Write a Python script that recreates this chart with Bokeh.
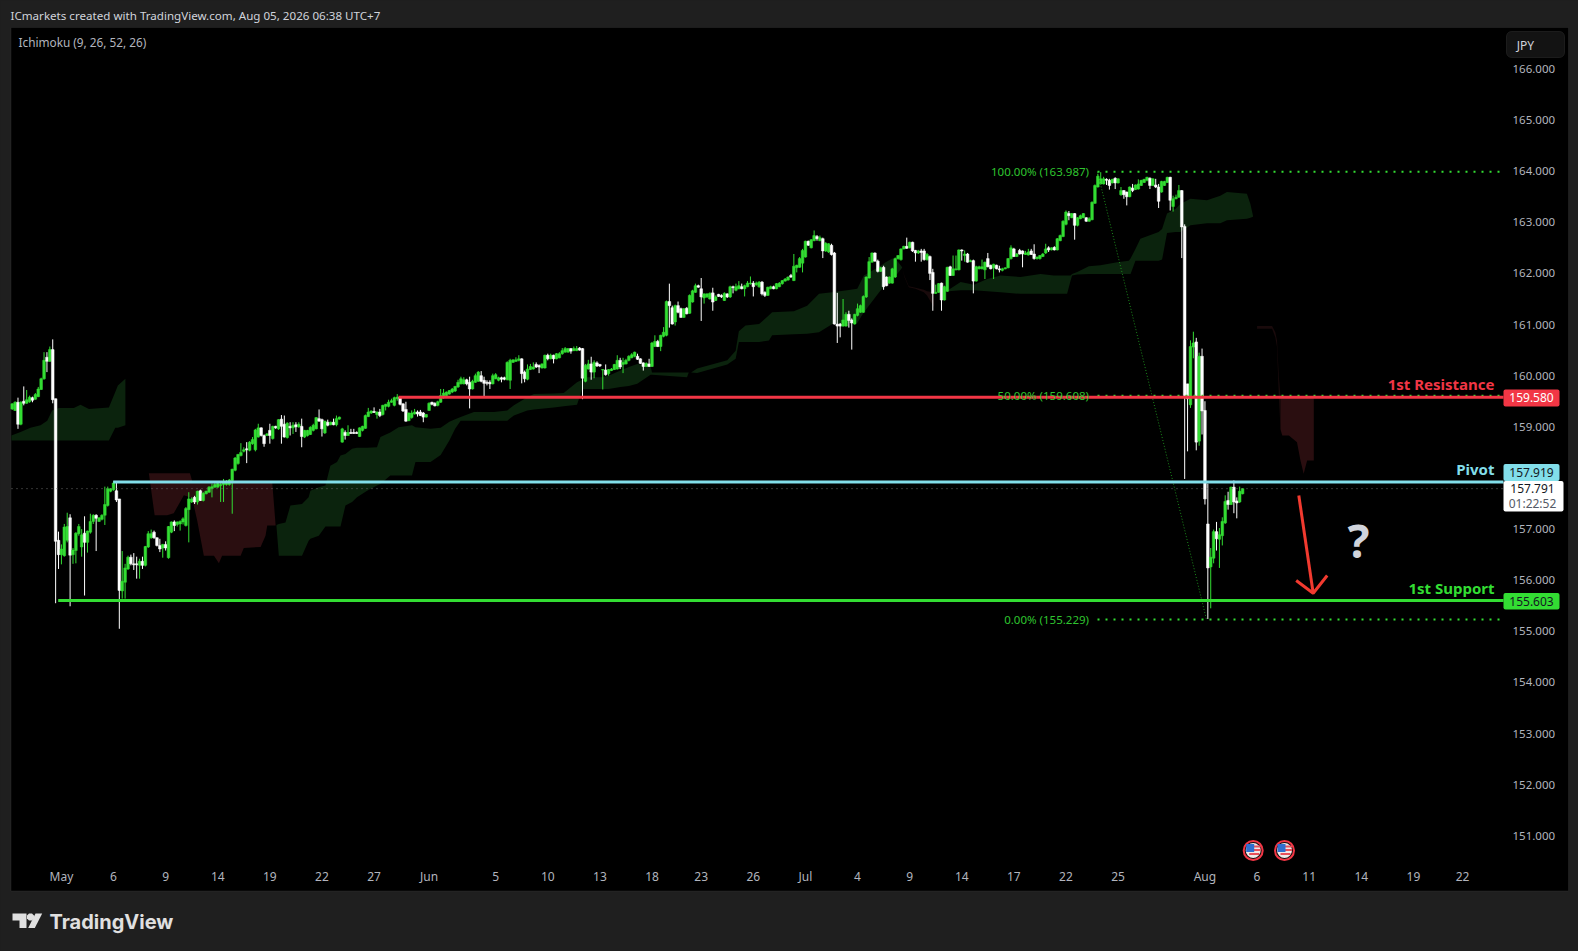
from bokeh.plotting import figure
from bokeh.models import (ColumnDataSource, FixedTicker, BoxAnnotation, Label, PolyAnnotation, Range1d)
from bokeh.embed import file_html
from bokeh.resources import INLINE

# ---- candles (4h bars) ----
opens = [
159.35,159.32,159.48,159.05,159.50,159.46,159.49,159.57,159.54,159.59,
159.73,159.94,160.36,160.28,160.51,159.55,156.78,156.50,156.48,156.78,
157.22,156.50,156.58,156.91,156.65,156.92,156.74,156.94,157.15,157.27,
157.15,157.19,157.27,157.46,157.74,157.77,157.75,157.59,155.79,155.96,
156.22,156.45,156.32,156.32,156.29,156.37,156.29,156.65,156.83,156.94,
156.83,156.68,156.63,156.70,156.44,156.94,157.14,157.09,157.10,157.14,
157.07,157.38,157.53,157.62,157.53,157.75,157.56,157.69,157.72,157.79,
157.82,157.82,157.85,157.87,157.87,157.87,157.95,158.15,158.28,158.44,
158.52,158.57,158.54,158.67,158.55,158.80,158.98,158.83,158.83,158.93,
158.77,159.01,158.96,159.15,159.05,158.79,159.01,158.98,159.04,159.00,
159.01,158.80,158.83,158.85,158.93,158.96,159.16,159.14,158.88,159.09,
159.04,159.09,159.04,159.15,158.70,158.89,158.83,158.89,158.89,158.89,
158.81,158.93,158.97,159.20,159.27,159.30,159.24,159.29,159.24,159.40,
159.40,159.48,159.42,159.55,159.58,159.45,159.34,159.12,159.18,159.25,
159.29,159.29,159.27,159.19,159.32,
159.48,159.46,159.42,159.48,159.57,159.61,159.64,159.68,159.70,159.78,
159.84,159.84,159.92,159.87,159.74,159.87,159.89,160.00,159.91,159.87,
159.87,159.84,159.94,159.91,159.96,159.96,159.92,159.91,160.26,160.28,
160.30,160.33,160.07,159.93,160.12,160.13,160.22,160.20,160.15,160.15,
160.40,160.33,160.40,160.33,160.35,160.43,160.46,160.46,160.53,160.49,
160.49,160.54,160.53,159.89,160.13,160.23,160.07,160.25,160.22,160.11,
160.11,160.04,160.10,160.12,160.13,160.30,160.22,160.23,160.30,160.35,
160.38,160.38,160.33,160.25,160.18,160.23,160.18,160.57,160.67,160.57,
160.77,160.79,161.45,161.33,161.05,161.37,161.31,161.14,161.32,161.22,
161.44,161.63,161.76,161.70,
161.52,161.54,161.50,161.62,161.47,161.59,161.57,161.47,161.60,161.54,
161.74,161.67,161.70,161.74,161.70,161.74,161.80,161.81,161.78,161.74,
161.83,161.63,161.57,161.70,161.74,161.70,161.74,161.80,161.85,161.87,
161.96,161.86,162.11,162.12,162.20,162.32,162.63,162.50,162.64,162.72,
162.64,162.68,162.44,162.42,162.55,162.40,161.01,161.01,160.97,160.97,
161.20,161.09,161.01,161.18,161.24,161.24,161.54,161.91,162.22,162.40,
162.24,162.04,162.12,161.93,161.81,161.81,161.93,162.29,162.27,162.48,
162.53,162.50,162.61,162.45,162.40,162.44,162.44,162.27,162.33,162.02,
161.61,161.63,161.81,161.48,161.65,162.13,161.96,162.07,162.07,162.46,
162.35,162.38,162.23,162.25,161.85,162.09,162.09,162.07,162.29,162.16,
162.11,162.16,162.09,162.06,162.09,162.11,162.29,162.48,162.33,162.45,
162.44,162.37,162.36,162.44,162.38,162.29,162.29,162.33,162.40,162.50,
162.46,162.51,162.46,162.64,162.72,162.96,163.17,163.09,163.17,162.94,
163.07,163.09,163.09,163.02,163.05,163.37,163.69,163.75,163.75,163.84,
163.82,163.77,163.86,163.77,163.54,163.62,163.59,163.50,163.67,163.64,
163.65,163.72,163.78,163.82,163.86,163.72,163.73,163.69,163.59,163.72,
163.78,163.88,163.31,163.46,163.49,163.62,162.92,159.84,159.43,160.56,
160.66,158.72,160.38,159.32,157.10,156.26,156.43,156.95,156.80,156.87,
157.12,157.56,157.48,157.82,157.55,157.53,157.69]
highs = [
159.46,159.50,159.57,159.50,159.79,159.72,159.61,159.59,159.66,159.78,
159.96,160.46,160.46,160.57,160.71,159.55,156.95,156.70,157.10,157.32,
157.29,156.63,156.94,157.10,157.00,157.25,156.97,157.30,157.29,157.29,
157.23,157.29,157.83,157.83,157.80,157.94,157.92,157.59,156.57,156.32,
156.48,156.50,156.53,156.46,156.42,156.46,156.67,156.96,156.99,156.97,
156.84,156.81,156.71,156.76,157.06,157.15,157.17,157.15,157.17,157.23,
157.43,157.72,157.62,157.65,157.75,157.77,157.72,157.75,157.84,157.89,
157.90,157.91,157.90,157.98,157.96,157.98,158.18,158.41,158.47,158.68,
158.60,158.70,158.72,158.80,158.96,159.06,158.99,158.85,158.88,159.06,
159.02,159.02,159.15,159.23,159.22,159.09,159.09,159.09,159.09,159.09,
159.16,158.94,158.94,159.01,159.06,159.19,159.34,159.16,159.12,159.14,
159.10,159.16,159.22,159.20,158.98,158.93,159.03,158.96,158.96,158.91,
158.99,159.02,159.24,159.37,159.32,159.38,159.30,159.35,159.43,159.45,
159.53,159.55,159.59,159.64,159.59,159.46,159.49,159.28,159.32,159.35,
159.32,159.33,159.29,159.25,159.48,
159.49,159.48,159.51,159.74,159.74,159.69,159.72,159.76,159.80,159.92,
159.98,159.97,159.94,159.98,159.92,160.04,160.09,160.09,159.98,159.91,
159.91,160.04,160.05,159.98,159.98,159.98,160.28,160.33,160.32,160.36,
160.40,160.34,160.10,160.22,160.23,160.26,160.26,160.22,160.24,160.41,
160.43,160.43,160.41,160.44,160.46,160.54,160.56,160.54,160.54,160.57,
160.58,160.56,160.54,160.23,160.31,160.37,160.30,160.28,160.23,160.13,
160.22,160.13,160.15,160.23,160.40,160.35,160.35,160.33,160.40,160.44,
160.47,160.43,160.34,160.26,160.26,160.33,160.66,160.79,160.70,160.80,
160.95,161.47,161.80,161.37,161.39,161.45,161.33,161.32,161.34,161.59,
161.68,161.80,161.78,161.91,
161.61,161.61,161.63,161.72,161.57,161.60,161.59,161.63,161.61,161.76,
161.76,161.80,161.85,161.80,161.78,161.85,161.94,161.85,161.84,161.85,
161.85,161.65,161.74,161.76,161.76,161.81,161.83,161.87,161.91,161.94,
161.99,162.38,162.17,162.32,162.48,162.64,162.64,162.67,162.84,162.75,
162.74,162.70,162.61,162.59,162.58,162.42,161.62,161.03,161.50,161.24,
161.27,161.12,161.21,161.41,161.39,161.57,161.94,162.32,162.41,162.41,
162.27,162.13,162.15,161.94,161.94,162.11,162.31,162.36,162.49,162.54,
162.70,162.62,162.62,162.46,162.46,162.48,162.48,162.40,162.35,162.09,
161.78,161.81,161.82,161.76,162.13,162.15,162.35,162.35,162.47,162.47,
162.45,162.40,162.27,162.27,162.15,162.15,162.27,162.23,162.40,162.17,
162.19,162.17,162.15,162.11,162.12,162.30,162.55,162.50,162.40,162.48,
162.45,162.44,162.48,162.48,162.57,162.33,162.36,162.40,162.58,162.53,
162.51,162.53,162.69,162.76,163.04,163.23,163.22,163.18,163.18,163.10,
163.15,163.18,163.10,163.10,163.41,163.74,163.95,163.98,163.89,163.86,
163.85,163.85,163.88,163.86,163.69,163.63,163.60,163.70,163.75,163.74,
163.84,163.83,163.85,163.89,163.88,163.86,163.85,163.75,163.81,163.81,
163.89,163.89,163.52,163.54,163.73,163.63,162.96,159.84,160.69,160.86,
160.74,160.45,160.53,159.50,157.89,156.63,156.99,157.14,157.02,157.23,
157.66,157.73,157.83,157.95,157.62,157.83,157.80]
lows = [
159.33,159.31,158.96,159.03,159.42,159.45,159.47,159.48,159.53,159.58,
159.72,159.92,160.07,160.27,159.46,155.55,156.22,156.31,156.46,156.74,
155.49,156.32,156.33,156.87,156.46,155.70,156.54,156.91,157.10,156.57,
157.14,157.17,157.08,157.44,157.72,157.75,157.53,155.05,155.64,155.64,
156.20,156.29,156.20,156.03,156.03,156.22,156.27,156.63,156.81,156.81,
156.66,156.55,156.44,156.58,156.42,156.92,156.96,157.05,156.97,157.09,
157.05,156.74,157.51,157.49,157.48,157.55,157.54,157.68,157.71,157.62,
157.81,157.81,157.53,157.53,157.85,157.85,157.30,158.13,158.26,158.42,
158.50,158.29,158.52,158.65,158.52,158.79,158.81,158.61,158.82,158.67,
158.75,158.96,158.94,158.67,158.79,158.77,158.83,158.86,158.90,158.98,
158.60,158.78,158.81,158.84,158.91,158.95,159.10,158.81,158.86,159.01,
159.03,159.03,159.01,159.14,158.69,158.75,158.82,158.86,158.86,158.86,
158.80,158.91,158.96,159.19,159.25,159.27,159.16,159.19,159.22,159.32,
159.38,159.47,159.40,159.51,159.42,159.29,159.10,159.11,159.16,159.24,
159.20,159.21,159.09,159.18,159.31,
159.42,159.40,159.40,159.47,159.55,159.60,159.63,159.66,159.68,159.76,
159.83,159.83,159.81,159.36,159.73,159.86,159.88,159.87,159.59,159.81,
159.74,159.83,159.93,159.89,159.87,159.91,159.91,159.74,160.25,160.27,
160.28,159.85,159.87,159.91,160.11,160.12,160.15,160.05,160.14,160.14,
160.30,160.32,160.24,160.32,160.34,160.41,160.45,160.45,160.43,160.48,
160.48,160.49,159.54,159.87,160.12,159.92,159.95,160.17,160.17,159.73,
160.00,160.00,160.09,160.11,160.12,160.13,160.05,160.22,160.28,160.34,
160.36,160.31,160.23,160.10,160.17,160.17,160.17,160.56,160.56,160.48,
160.75,160.77,160.94,161.00,160.98,161.22,161.13,161.13,161.20,161.21,
161.43,161.62,161.72,161.07,
161.41,161.52,161.49,161.27,161.46,161.54,161.52,161.46,161.52,161.52,
161.61,161.65,161.69,161.69,161.55,161.73,161.78,161.55,161.76,161.72,
161.57,161.54,161.56,161.69,161.69,161.69,161.73,161.78,161.84,161.86,
161.91,161.85,162.02,162.11,162.02,162.31,162.54,162.49,162.63,162.64,
162.63,162.30,162.42,162.40,162.35,161.00,160.64,160.75,160.96,160.96,
160.94,160.51,161.00,161.16,161.23,161.23,161.52,161.90,162.21,162.23,
162.02,162.03,161.68,161.75,161.80,161.80,161.91,162.27,162.25,162.47,
162.48,162.49,162.42,162.23,162.38,162.23,162.25,162.25,161.87,161.27,
161.60,161.62,161.27,161.47,161.64,161.95,161.95,162.06,162.06,162.25,
162.23,162.21,162.22,161.61,161.84,162.08,162.08,161.89,162.12,162.08,
161.89,162.08,162.02,162.04,162.08,162.10,162.27,162.32,162.32,162.37,
162.12,162.36,162.35,162.36,162.27,162.27,162.27,162.32,162.38,162.42,
162.45,162.45,162.45,162.63,162.71,162.94,163.04,163.08,162.66,162.92,
163.06,163.08,163.01,163.01,163.04,163.36,163.68,163.74,163.74,163.73,
163.64,163.76,163.65,163.76,163.52,163.46,163.33,163.49,163.59,163.63,
163.64,163.71,163.77,163.80,163.65,163.71,163.67,163.28,163.58,163.71,
163.77,163.23,163.21,163.45,163.48,162.30,157.98,158.52,159.37,160.34,
158.54,158.63,158.85,157.48,155.24,155.45,156.33,156.58,156.24,156.68,
157.10,157.38,157.47,157.31,157.21,157.51,157.68]
closes = [
159.45,159.48,159.05,159.48,159.46,159.53,159.58,159.52,159.63,159.74,
159.94,160.30,160.28,160.51,159.53,156.76,156.50,156.61,157.04,157.05,
156.49,156.59,156.92,157.05,156.89,156.74,156.96,157.15,157.27,157.21,
157.22,157.27,157.48,157.79,157.79,157.90,157.57,155.80,155.98,156.24,
156.45,156.32,156.30,156.30,156.37,156.29,156.66,156.91,156.91,156.83,
156.68,156.61,156.70,156.63,157.05,157.14,157.07,157.14,157.15,157.20,
157.40,157.59,157.59,157.53,157.74,157.56,157.70,157.74,157.82,157.83,
157.87,157.89,157.87,157.90,157.92,157.96,158.17,158.39,158.46,158.50,
158.55,158.55,158.70,158.75,158.94,158.98,158.83,158.67,158.86,158.83,
159.01,158.98,159.14,159.01,158.80,159.07,158.98,159.03,159.00,159.05,
158.81,158.93,158.93,158.99,159.03,159.18,159.11,158.96,159.11,159.03,
159.09,159.04,159.16,159.19,158.96,158.83,158.89,158.87,158.87,158.87,
158.98,159.01,159.22,159.29,159.31,159.28,159.29,159.22,159.42,159.44,
159.48,159.51,159.57,159.58,159.44,159.31,159.11,159.27,159.27,159.29,
159.25,159.22,159.19,159.24,159.46,
159.44,159.41,159.49,159.61,159.66,159.68,159.71,159.74,159.79,159.87,
159.94,159.92,159.84,159.74,159.89,160.00,160.07,159.89,159.85,159.85,
159.84,160.00,160.02,159.96,159.93,159.93,160.26,160.30,160.31,160.31,
160.33,160.04,159.94,160.13,160.18,160.17,160.17,160.17,160.23,160.40,
160.33,160.40,160.33,160.43,160.43,160.49,160.53,160.53,160.48,160.53,
160.53,160.50,159.95,160.20,160.23,160.07,160.26,160.19,160.19,160.12,
160.02,160.12,160.13,160.22,160.30,160.17,160.26,160.30,160.38,160.41,
160.46,160.32,160.24,160.18,160.24,160.18,160.64,160.67,160.57,160.79,
160.85,161.45,161.37,161.01,161.37,161.24,161.14,161.31,161.21,161.57,
161.66,161.76,161.73,161.54,
161.60,161.60,161.61,161.44,161.54,161.55,161.54,161.61,161.54,161.74,
161.72,161.74,161.76,161.70,161.76,161.81,161.81,161.74,161.81,161.83,
161.60,161.57,161.73,161.74,161.70,161.80,161.81,161.86,161.89,161.93,
161.93,162.14,162.16,162.29,162.45,162.63,162.55,162.66,162.74,162.68,
162.70,162.44,162.59,162.58,162.37,161.01,160.97,160.97,161.09,161.20,
161.08,161.03,161.20,161.31,161.37,161.55,161.93,162.23,162.40,162.24,
162.04,162.11,161.74,161.76,161.93,162.09,162.29,162.35,162.48,162.53,
162.49,162.61,162.44,162.40,162.44,162.41,162.27,162.37,162.00,161.61,
161.63,161.80,161.48,161.74,162.12,161.96,162.09,162.09,162.46,162.44,
162.38,162.22,162.25,161.85,162.13,162.13,162.13,162.22,162.13,162.09,
162.18,162.09,162.07,162.09,162.11,162.29,162.50,162.33,162.38,162.38,
162.38,162.40,162.42,162.37,162.29,162.32,162.35,162.38,162.48,162.46,
162.50,162.46,162.68,162.74,163.02,163.20,163.13,163.17,162.94,163.09,
163.13,163.17,163.02,163.07,163.39,163.72,163.90,163.85,163.85,163.82,
163.72,163.84,163.77,163.85,163.62,163.54,163.50,163.69,163.62,163.73,
163.75,163.82,163.84,163.88,163.72,163.85,163.69,163.41,163.80,163.80,
163.88,163.43,163.46,163.49,163.62,162.91,159.61,159.55,160.57,160.64,
158.70,160.38,159.31,157.59,156.24,156.45,156.95,156.81,156.89,157.15,
157.54,157.48,157.82,157.53,157.51,157.74,157.79]

# ---- Ichimoku cloud ----
g1_x   = [-0.3,2.9,6.3,9.8,12.1,13.8,16.1,21.3,23.6,26.5,33.4,35.6,36.5,39.1]
g1_top = [158.83,158.90,158.98,159.03,159.12,159.32,159.37,159.37,159.43,159.35,159.38,159.68,159.81,159.94]
g1_bot = [158.73,158.73,158.73,158.73,158.73,158.73,158.73,158.73,158.73,158.73,158.73,158.98,158.98,159.03]
r1_x   = [47.2,49.2,53.5,55.8,59.3,61.4,62.2,63.9,66.2,69.7,71.4,72.5,78.9,80.0,85.8,87.5,88.1,89.8,91.0]
r1_top = [158.09,158.09,158.09,158.09,158.09,158.09,157.93,157.93,157.93,157.93,157.93,157.93,157.93,157.93,157.93,157.93,157.93,157.93,157.07]
r1_bot = [158.09,157.27,157.27,157.31,157.66,157.62,157.59,157.17,156.48,156.48,156.33,156.48,156.48,156.63,156.65,156.87,157.07,157.07,157.07]
g2_x   = [91.3,92.1,94.4,96.1,100.1,102.4,103.0,105.9,108.2,109.9,112.2,113.4,115.1,117.4,119.1,122.6,126.0,127.2,130.6,133.5,138.1,139.3,144.5,148.0,151.0,153.0,154.9,159.5,166.4,171.0,173.3,177.9,180.2,187.1,190.5,195.1,196.9,198.6,203.8,206.0,210.1,213.0,215.9,220.5,221.0,233.1,233.7]
g2_top = [157.08,157.10,157.13,157.46,157.49,157.62,157.75,157.82,157.85,158.24,158.31,158.44,158.47,158.57,158.59,158.59,158.60,158.80,158.89,158.99,159.03,158.99,158.96,158.98,159.10,159.15,159.19,159.29,159.29,159.32,159.42,159.58,159.64,159.65,159.66,159.87,159.92,159.97,159.97,160.00,160.10,160.17,160.23,160.19,160.06,160.06,160.06]
g2_bot = [157.04,156.48,156.48,156.48,156.48,156.77,156.81,156.87,157.05,157.05,157.05,157.05,157.46,157.53,157.62,157.75,157.85,157.88,158.05,158.05,158.05,158.31,158.31,158.45,158.73,158.96,159.12,159.12,159.12,159.12,159.22,159.32,159.34,159.38,159.40,159.43,159.74,159.74,159.74,159.74,159.78,159.80,159.84,160.02,160.02,159.97,160.06]
g3_x   = [234.5,236.6,247.0,249.9,251.0,253.3,258.0,261.4,262.5,270.0,274.6,278.7,283.3,288.4,291.9,294.2,300.0,301.7,304.0,305.7,307.4]
g3_top = [160.06,160.14,160.30,160.49,160.87,160.98,161.01,161.18,161.24,161.26,161.37,161.60,161.63,161.67,161.70,161.96,162.15,162.22,162.29,162.25,162.12]
g3_bot = [160.06,160.05,160.22,160.33,160.66,160.66,160.66,160.69,160.79,160.81,160.82,160.85,161.01,161.03,161.03,161.24,161.67,161.76,161.89,161.99,162.11]
r2_x   = [307.4,308.2,309.7,312.0,314.9,316.0,318.4]
r2_top = [162.12,161.95,161.75,161.72,161.68,161.65,161.63]
r2_bot = [162.12,161.93,161.73,161.70,161.63,161.57,161.34]
g4_x   = [318.4,323.5,327.6,332.2,336.8,341.4,348.3,355.2,359.8,364.4,365.6,366.1,367.9,371.9,375.9,381.7,385.7,386.3,388.0,389.7,396.0,397.2,398.9,401.8,403.5,407.0,412.7,417.3,419.6,426.5,427.7,428.6]
g4_top = [161.63,161.68,161.83,161.78,161.89,161.96,161.93,161.99,161.96,161.96,161.96,161.99,162.03,162.14,162.16,162.22,162.25,162.29,162.48,162.68,162.81,162.87,163.17,163.26,163.36,163.46,163.43,163.52,163.59,163.56,163.36,163.13]
g4_bot = [161.63,161.65,161.67,161.67,161.65,161.63,161.60,161.60,161.60,161.60,161.86,161.96,161.98,161.99,161.99,161.99,161.99,161.99,162.25,162.25,162.25,162.27,162.79,162.81,162.81,162.94,162.98,162.98,163.04,163.07,163.09,163.11]
r3_x   = [430.0,435.2,436.3,436.9,437.5,438.1,438.7,441.0,443.8,445.0,446.1,447.3,449.6]
r3_top = [160.97,160.97,160.85,160.69,160.00,159.60,159.60,159.60,159.60,159.60,159.60,159.60,159.60]
r3_bot = [160.92,160.92,160.75,160.56,159.65,158.95,158.83,158.83,158.70,158.34,158.08,158.34,158.34]

# ---- levels ----
resistance, pivot, support, last_price = 159.580, 157.919, 155.603, 157.791
fib_100, fib_50, fib_0 = 163.987, 159.608, 155.229
y_ticks = [151,152,153,154,155,156,157,158,159,160,161,162,163,164,165,166]
x_tick_pos = [17,35,53,71,89,107,125,144,167,185,203,221,238,256,274,292,310,328,346,364,382,412,430,448,466,484,501]
x_tick_lab = ["May","6","9","14","19","22","27","Jun","5","10","13","18","23","26","Jul","4","9","14","17","22","25","Aug","6","11","14","19","22"]

n = len(closes)
assert len(opens) == n and len(highs) == n and len(lows) == n, (len(opens), len(highs), len(lows), n)

FONT = "Noto Sans"
BG, GREEN, WHITE = "#1f1f1f", "#33dd33", "#ffffff"
CYAN, RED, TXT = "#82deea", "#f23645", "#b2b5be"

X0, DX = 11.7, 2.895
Y0, DY = 68.4, 51.13
def xd(px): return (px - X0) / DX
def yd(py): return 166 - (py - Y0) / DY

p = figure(width=1578, height=951, output_backend="svg", toolbar_location=None,
           x_range=Range1d(xd(0), xd(1578)), y_range=Range1d(yd(951), yd(0)),
           y_axis_location="right", min_border=0, border_fill_color=BG,
           background_fill_color=BG, outline_line_color=None)
p.grid.visible = False

p.yaxis.ticker = FixedTicker(ticks=y_ticks)
p.yaxis.major_label_overrides = {t: f"{t}.000" for t in y_ticks}
p.xaxis.ticker = FixedTicker(ticks=x_tick_pos)
p.xaxis.major_label_overrides = dict(zip(x_tick_pos, x_tick_lab))
for ax in (p.xaxis[0], p.yaxis[0]):
    ax.axis_line_color = None
    ax.major_tick_line_color = None
    ax.minor_tick_line_color = None
    ax.major_label_text_color = TXT
    ax.major_label_text_font = FONT
p.xaxis[0].major_label_text_font_size = "12px"
p.yaxis[0].major_label_text_font_size = "11.5px"
p.yaxis[0].fixed_location = xd(1503)
p.xaxis[0].fixed_location = yd(862)
p.yaxis.major_label_standoff = 3
p.xaxis.major_label_standoff = -1

# black pane behind axes
p.add_layout(BoxAnnotation(left=xd(10.5), right=xd(1568), bottom=yd(890.5), top=yd(27),
                           fill_color="#000000", fill_alpha=1, line_color="#3a3a3a", line_width=1,
                           level="underlay"))

# cloud
GC, RC, RC_DIM = "#0b230d", "#2a0e10", "#190a0b"
for xs, t, b, c in [(g1_x,g1_top,g1_bot,GC),(r1_x,r1_top,r1_bot,RC),(g2_x,g2_top,g2_bot,GC),
                    (g3_x,g3_top,g3_bot,GC),(r2_x,r2_top,r2_bot,RC_DIM),(g4_x,g4_top,g4_bot,GC),
                    (r3_x[:6],r3_top[:6],r3_bot[:6],RC_DIM),(r3_x[5:],r3_top[5:],r3_bot[5:],RC)]:
    p.varea(x=xs, y1=t, y2=b, fill_color=c, fill_alpha=1)

# candles
src = ColumnDataSource(dict(
    x=list(range(n)), h=highs, l=lows,
    top=[max(a, b) for a, b in zip(opens, closes)],
    bottom=[min(a, b) for a, b in zip(opens, closes)],
    color=[GREEN if c >= o else WHITE for o, c in zip(opens, closes)]))
p.segment(x0="x", y0="l", x1="x", y1="h", line_color="color", line_width=1, source=src)
p.vbar(x="x", width=0.92, top="top", bottom="bottom", fill_color="color", line_color="color",
       line_width=0.5, source=src)

# drawings
right_edge = xd(1503)
p.line([xd(11), right_edge], [last_price, last_price], line_color="#6b6b6b", line_width=1, line_dash="1 4")
p.line([xd(1097), xd(1206)], [fib_100, fib_0], line_color="#1c8a1c", line_width=1, line_dash="1 2")
for lvl in (fib_100, fib_50, fib_0):
    p.line([xd(1097), xd(1500)], [lvl, lvl], line_color=GREEN, line_width=2, line_dash="2 6")
p.line([xd(398), right_edge], [resistance]*2, line_color=RED, line_width=3)
p.line([xd(112.7), right_edge], [pivot]*2, line_color=CYAN, line_width=3)
p.line([xd(57.7), right_edge], [support]*2, line_color=GREEN, line_width=3)

# arrow
ARROW = "#f23a2f"
p.line([xd(1298.3), xd(1312.7)], [yd(495), yd(592.7)], line_color=ARROW, line_width=3)
p.line([xd(1295.7), xd(1312.7), xd(1326.7)], [yd(580), yd(592.7), yd(575)], line_color=ARROW, line_width=3)

# economic-event flags
for fx in (1252.7, 1284):
    fy = 850
    p.scatter([xd(fx)], [yd(fy)], size=19, marker="circle", fill_color="#101010", line_color=RED, line_width=2)
    p.scatter([xd(fx)], [yd(fy)], size=15, marker="circle", fill_color="#f0e8e8", line_color=None)
    for dy in (-4, -0.5, 3.5):
        p.rect([xd(fx+1)], [yd(fy+dy)], width=13 if dy != 3.5 else 10, height=2, width_units="screen",
               height_units="screen", fill_color="#e8505a", line_color=None)
    p.rect([xd(fx-3)], [yd(fy-2.5)], width=8, height=8, width_units="screen", height_units="screen",
           fill_color="#2f6fd0", line_color=None)

def label(text, px, py, color=TXT, size=12, align="left", style="normal", font=FONT):
    p.add_layout(Label(x=xd(px), y=yd(py), text=text, text_color=color, text_font_size=f"{size}px",
                       text_align=align, text_baseline="middle", text_font=font, text_font_style=style))

def box(x0, x1, y0, y1, fill, radius=2, line=None):
    p.add_layout(BoxAnnotation(left=xd(x0), right=xd(x1), bottom=yd(y1), top=yd(y0), fill_color=fill,
                               fill_alpha=1, line_color=line, border_radius=radius, level="annotation"))

# header and legend
label("ICmarkets created with TradingView.com, Aug 05, 2026 06:38 UTC+7", 10, 14.5, "#d1d4dc", 11.6)
label("Ichimoku (9, 26, 52, 26)", 18, 41.5, TXT, 11.8)
box(1506, 1564, 31, 57, "#131313", 5, "#4a4a4a")
label("JPY", 1525, 44.5, "#d1d4dc", 12, "center")

# fib labels
label("100.00% (163.987)", 1088.5, 171, "#2fc42f", 11.5, "right")
label("50.00% (159.608)", 1088.5, 395, "#2fc42f", 11.5, "right")
label("0.00% (155.229)", 1088.5, 618.5, "#2fc42f", 11.5, "right")

# level labels
label("1st Resistance", 1494, 383, RED, 15, "right", "bold")
label("Pivot", 1494, 468, CYAN, 15, "right", "bold")
label("1st Support", 1494, 587, GREEN, 15, "right", "bold")
label("?", 1358, 539, "#d1d4dc", 46, "center", "bold")

# price badges
box(1503, 1559, 389, 406, RED)
label("159.580", 1531, 397, "#ffffff", 12, "center")
box(1503, 1559, 463.5, 480.5, CYAN)
label("157.919", 1531, 471.5, "#131722", 12, "center")
box(1503, 1563, 480.5, 511, "#ffffff")
label("157.791", 1532, 488, "#131722", 12, "center")
label("01:22:52", 1532, 503, "#555a66", 12, "center")
box(1503, 1559, 592.5, 609, "#33dd33")
label("155.603", 1531, 600.5, "#131722", 12, "center")

# logo
LOGO = "#e0e0e0"
for xs, ys in [([12, 26, 26, 19, 19, 12], [913, 913, 927.5, 927.5, 920, 920]),
               ([35, 41.7, 34.3, 27.7], [913, 913, 927.5, 927.5]),
               ([28.5, 31.5, 33.5, 33.5, 31.5, 28.5, 26.5, 26.5], [913, 913, 915, 918, 920, 920, 918, 915])]:
    p.add_layout(PolyAnnotation(xs=[xd(v) for v in xs], ys=[yd(v) for v in ys], fill_color=LOGO, fill_alpha=1,
                                line_color=None, level="annotation"))
label("TradingView", 49, 921, LOGO, 20, "left", "bold", "Inter")

html = file_html(p, INLINE)
html = html.replace("</head>", f"<style>html,body{{background:{BG};overflow:hidden}}</style></head>", 1)
open("out.html", "w").write(html)
